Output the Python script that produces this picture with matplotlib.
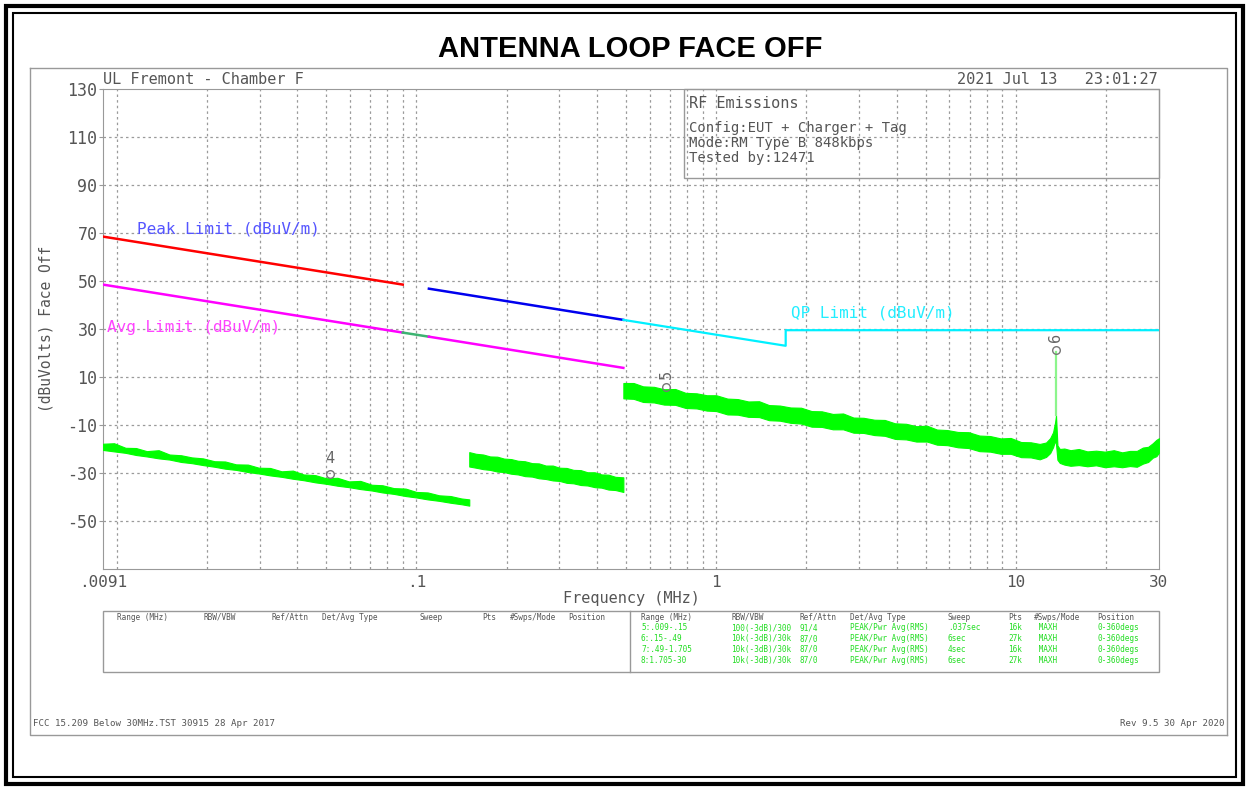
import matplotlib
matplotlib.use('Agg')
from matplotlib import pyplot as plt
from matplotlib.patches import Rectangle
from matplotlib.lines import Line2D
from matplotlib.ticker import FixedLocator, LogLocator, NullFormatter

W, H = 1249, 790
MONO = 'DejaVu Sans Mono'
GREY = '#555555'
TRACE = '#00ff00'
plt.rcParams['axes.unicode_minus'] = False

# FCC 15.209 limit lines (MHz, dBuV/m)
peak_f = [0.009, 0.09]
peak_db = [68.5, 48.5]
peak2_f = [0.11, 0.49]
peak2_db = [46.8, 33.8]
qp_f = [0.49, 1.705, 1.705, 30.0]
qp_db = [33.8, 23.0, 29.5, 29.5]
avg_f = [0.009, 0.09]
avg_db = [48.5, 28.5]
avg_mid_f = [0.09, 0.11]
avg_mid_db = [28.5, 26.8]
avg2_f = [0.11, 0.49]
avg2_db = [26.8, 13.8]

# max-hold sweep envelopes, one per range
sweep5_f = [0.009, 0.0098, 0.0107, 0.0116, 0.0126, 0.0138, 0.015, 0.0164, 0.0178,
            0.0194, 0.0212, 0.023, 0.025, 0.0274, 0.0298, 0.0325, 0.0355, 0.0387,
            0.042, 0.046, 0.05, 0.0545, 0.0595, 0.065, 0.071, 0.077, 0.084, 0.092,
            0.1, 0.109, 0.119, 0.13, 0.141, 0.15]
sweep5_hi = [-17.8, -17.6, -19.5, -19.6, -20.9, -20.5, -22.3, -22.6, -23.5, -23.9,
             -25.1, -25.2, -26.4, -26.5, -27.8, -27.9, -29.3, -29.0, -30.6, -30.9,
             -32.2, -32.0, -33.5, -33.3, -34.9, -35.1, -36.3, -36.5, -37.9, -38.1,
             -39.3, -39.6, -40.6, -41.0]
sweep5_lo = [-20.4, -21.0, -21.6, -22.5, -23.1, -23.9, -24.4, -25.4, -25.9, -26.7,
             -27.4, -28.2, -28.7, -29.6, -30.2, -31.0, -31.6, -32.4, -33.0, -33.9,
             -34.5, -35.3, -35.9, -36.7, -37.3, -38.1, -38.7, -39.6, -40.2, -41.0,
             -41.6, -42.4, -43.0, -43.6]

sweep6_f = [0.15, 0.158, 0.167, 0.176, 0.186, 0.196, 0.207, 0.218, 0.23, 0.243, 0.256,
            0.27, 0.285, 0.3, 0.317, 0.334, 0.353, 0.372, 0.393, 0.414, 0.437, 0.461, 0.49]
sweep6_hi = [-21.3, -22.0, -22.3, -23.1, -23.2, -24.0, -24.2, -24.9, -25.1, -25.9, -26.0,
             -26.9, -26.9, -27.8, -27.9, -28.7, -28.8, -29.7, -29.7, -30.6, -30.7, -31.6, -31.8]
sweep6_lo = [-27.3, -27.8, -28.4, -28.7, -29.4, -29.6, -30.3, -30.6, -31.3, -31.5, -32.2,
             -32.5, -33.1, -33.3, -34.1, -34.3, -35.0, -35.2, -35.9, -36.1, -36.9, -37.1, -37.9]

sweep78_f = [0.49, 0.53, 0.57, 0.62, 0.67, 0.73, 0.79, 0.86, 0.93, 1.0, 1.09, 1.18, 1.28,
             1.39, 1.5, 1.63, 1.77, 1.92, 2.08, 2.25, 2.45, 2.65, 2.87, 3.1, 3.37, 3.65,
             3.95, 4.3, 4.65, 5.05, 5.45, 5.9, 6.4, 6.95, 7.55, 8.2, 8.9, 9.6, 10.4, 11.2,
             12.0, 12.6, 13.0, 13.3, 13.5, 13.6, 13.75, 14.0, 14.5, 15.2, 16.2, 17.3, 18.5,
             19.8, 21.2, 22.6, 24.0, 25.3, 26.5, 27.6, 28.6, 29.4, 30.0]
sweep78_hi = [7.5, 7.5, 6.1, 5.9, 4.9, 5.0, 3.4, 3.2, 2.4, 2.4, 1.0, 0.8, -0.2, -0.1,
              -1.7, -1.9, -2.7, -2.8, -4.2, -4.3, -5.4, -5.2, -6.9, -7.0, -7.8, -7.9,
              -9.3, -9.5, -10.5, -10.3, -11.9, -12.1, -12.9, -13.0, -14.4, -14.6, -15.6,
              -15.4, -17.1, -17.2, -17.9, -17.3, -15.5, -13.0, -9.0, -6.0, -18.5, -20.0,
              -19.8, -20.5, -20.0, -21.0, -20.7, -21.1, -20.5, -21.4, -20.8, -20.8, -19.4,
              -19.1, -17.6, -16.2, -15.5]
sweep78_lo = [1.1, 0.9, -0.4, -0.6, -1.5, -1.6, -2.9, -3.1, -4.0, -4.2, -5.6, -5.7, -6.6,
              -6.7, -8.0, -8.2, -9.1, -9.4, -10.7, -10.8, -11.8, -11.8, -13.2, -13.3,
              -14.2, -14.5, -15.8, -16.0, -16.9, -16.9, -18.2, -18.4, -19.3, -19.6, -20.9,
              -21.1, -22.0, -22.0, -23.4, -23.5, -24.3, -23.3, -21.7, -19.2, -16.5, -18.0,
              -24.5, -25.8, -26.5, -27.0, -26.7, -27.2, -26.8, -27.6, -27.2, -27.6, -27.1,
              -27.4, -26.1, -25.4, -23.6, -23.0, -21.5]

# 13.56 MHz carrier
spike_f = 13.56
spike_db = [-6.0, 20.5]

# peak markers
marker_f = [0.0514, 0.68, 13.56]
marker_db = [-30.4, 5.8, 21.2]
marker_lbl = ['4', '5', '6']

x_ticks = [0.009, 0.1, 1, 10, 30]
x_tick_lbl = ['.0091', '.1', '1', '10', '30']
y_ticks = list(range(-50, 131, 20))

table_head = ['Range (MHz)', 'RBW/VBW', 'Ref/Attn', 'Det/Avg Type', 'Sweep', 'Pts',
              '#Swps/Mode', 'Position']
table_rows = [
    ['5:.009-.15', '100(-3dB)/300', '91/4', 'PEAK/Pwr Avg(RMS)', '.037sec', '16k', ' MAXH', '0-360degs'],
    ['6:.15-.49', '10k(-3dB)/30k', '87/0', 'PEAK/Pwr Avg(RMS)', '6sec', '27k', ' MAXH', '0-360degs'],
    ['7:.49-1.705', '10k(-3dB)/30k', '87/0', 'PEAK/Pwr Avg(RMS)', '4sec', '16k', ' MAXH', '0-360degs'],
    ['8:1.705-30', '10k(-3dB)/30k', '87/0', 'PEAK/Pwr Avg(RMS)', '6sec', '27k', ' MAXH', '0-360degs'],
]


def px(x, y):
    return x / W, 1 - y / H


def ftext(x, y, s, **kw):
    fx, fy = px(x, y)
    kw.setdefault('family', MONO)
    kw.setdefault('color', GREY)
    kw.setdefault('va', 'center')
    fig.text(fx, fy, s, **kw)


def fline(xs, ys, **kw):
    kw.setdefault('color', '#999999')
    kw.setdefault('lw', 1.0)
    fig.add_artist(Line2D([x / W for x in xs], [1 - y / H for y in ys],
                          transform=fig.transFigure, **kw))


def fbox(x0, y0, x1, y1, **kw):
    kw.setdefault('ec', '#999999')
    kw.setdefault('lw', 1.0)
    fig.add_artist(Rectangle(px(x0, y1), (x1 - x0) / W, (y1 - y0) / H, fill=False,
                             transform=fig.transFigure, **kw))


fig = plt.figure(figsize=(W / 100, H / 100), dpi=100)

# page borders
fbox(6, 6, W - 6, H - 6, ec='black', lw=3.0)
fbox(13, 13, W - 13, H - 13, ec='black', lw=1.5)
fline([30, 1227, 1227], [68, 68, 735])
fline([30, 30, 1227], [68, 735, 735])

ftext(630, 49, 'ANTENNA LOOP FACE OFF', family='Liberation Sans', weight='bold',
      fontsize=21, color='black', ha='center')

l, b = px(103, 569)
r, t = px(1159, 89)
ax = fig.add_axes([l, b, r - l, t - b])
ax.set_xscale('log')
ax.set_xlim(0.009, 30)
ax.set_ylim(-70, 130)

for f, hi, lo in [(sweep5_f, sweep5_hi, sweep5_lo), (sweep6_f, sweep6_hi, sweep6_lo),
                  (sweep78_f, sweep78_hi, sweep78_lo)]:
    ax.fill_between(f, lo, hi, color=TRACE, lw=0.8, ec=TRACE, zorder=3)
ax.plot([spike_f, spike_f], spike_db, color='#8cf58c', lw=1.6, zorder=3)

ax.plot(peak_f, peak_db, color='#ff0000', lw=1.8, zorder=4)
ax.plot(peak2_f, peak2_db, color='#0000ee', lw=1.8, zorder=4)
ax.plot(qp_f, qp_db, color='#00f0ff', lw=1.6, zorder=4)
ax.plot(avg_f, avg_db, color='#ff00ff', lw=1.8, zorder=4)
ax.plot(avg_mid_f, avg_mid_db, color='#3cb371', lw=1.8, zorder=4)
ax.plot(avg2_f, avg2_db, color='#ff00ff', lw=1.8, zorder=4)

ax.text(0.0117, 71.5, 'Peak Limit (dBuV/m)', family=MONO, fontsize=11.5, color='#5555ff', va='center')
ax.text(0.0093, 30.5, 'Avg Limit (dBuV/m)', family=MONO, fontsize=11.5, color='#ff44ff', va='center')
ax.text(1.78, 36.5, 'QP Limit (dBuV/m)', family=MONO, fontsize=11.5, color='#22eeff', va='center')

ax.plot(marker_f, marker_db, ls='none', marker='o', ms=5.5, mfc='none', mec='#777777', zorder=5)
for f, db, s in zip(marker_f, marker_db, marker_lbl):
    rot = 0 if s == '4' else 90
    ax.annotate(s, (f, db), xytext=(0, 6), textcoords='offset points', ha='center',
                va='bottom', family=MONO, fontsize=11, color='#666666', rotation=rot, zorder=5)

ax.yaxis.set_major_locator(FixedLocator(y_ticks))
ax.xaxis.set_major_locator(FixedLocator(x_ticks))
ax.set_xticklabels(x_tick_lbl)
ax.xaxis.set_minor_locator(LogLocator(base=10, subs=range(2, 10), numticks=20))
ax.xaxis.set_minor_formatter(NullFormatter())
ax.tick_params(axis='x', which='both', length=0, pad=4, labelsize=11.5, labelcolor=GREY)
ax.tick_params(axis='y', length=3, color='#999999', pad=1, labelsize=12, labelcolor=GREY)
for lbl in ax.get_xticklabels() + ax.get_yticklabels():
    lbl.set_family(MONO)

grid_kw = dict(color='#9a9a9a', lw=0.9, ls=(0, (2, 2.5)))
for y in range(-50, 130, 20):
    ax.axhline(y, zorder=1, **grid_kw)
for dec in [0.01, 0.1, 1, 10]:
    for m in range(1, 10):
        f = dec * m
        if 0.009 < f < 30:
            ax.axvline(f, zorder=1, **grid_kw)
for s in ax.spines.values():
    s.set_color('#999999')

ax.set_ylabel('(dBuVolts) Face Off', family=MONO, fontsize=10.5, color=GREY)
ax.yaxis.set_label_coords(-0.047, 0.5)

# header and info box
ftext(103, 79, 'UL Fremont - Chamber F', fontsize=11)
ftext(1158, 79, '2021 Jul 13   23:01:27', fontsize=11, ha='right')
fbox(684, 89, 1159, 178)
ftext(689, 103, 'RF Emissions', fontsize=11)
ftext(689, 128, 'Config:EUT + Charger + Tag', fontsize=10)
ftext(689, 143, 'Mode:RM Type B 848kbps', fontsize=10)
ftext(689, 158, 'Tested by:12471', fontsize=10)

ftext(631, 598, 'Frequency (MHz)', fontsize=11, ha='center')

# sweep settings table
fbox(103, 611, 1159, 672)
fline([630, 630], [611, 672])
left_cols = [117, 203, 271, 322, 420, 482, 510, 568]
right_cols = [641, 731, 800, 850, 948, 1008, 1034, 1097]
for x, h in zip(left_cols, table_head):
    ftext(x, 617, h, fontsize=5.6)
for x, h in zip(right_cols, table_head):
    ftext(x, 617, h, fontsize=5.6)
for i, row in enumerate(table_rows):
    for x, cell in zip(right_cols, row):
        ftext(x, 628 + i * 10.7, cell, fontsize=5.6, color='#22dd22')

ftext(33, 723, 'FCC 15.209 Below 30MHz.TST 30915 28 Apr 2017', fontsize=6.6)
ftext(1225, 723, 'Rev 9.5 30 Apr 2020', fontsize=6.6, ha='right')

fig.savefig('out.png', dpi=100)
